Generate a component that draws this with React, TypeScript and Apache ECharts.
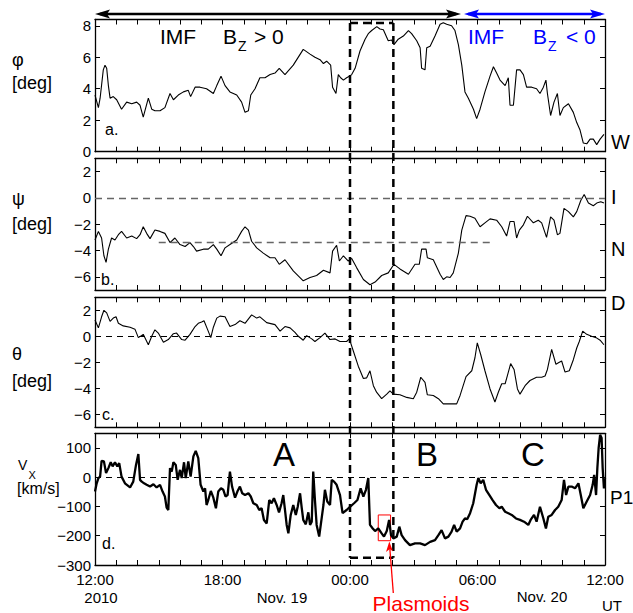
import React, { useEffect, useRef } from 'react';
import * as echarts from 'echarts';

// hours after 12:00 UT, 2010 Nov. 19
const hourTicks = Array.from({ length: 25 }, (_, i) => i);
const timeLabelValues = [0, 6, 12, 18, 24];
const timeLabels = ['12:00', '18:00', '00:00', '06:00', '12:00'];

const phiTicks = [0, 2, 4, 6, 8];
const psiTicks = [-6, -4, -2, 0, 2];
const thetaTicks = [-6, -4, -2, 0, 2];
const vxTicks = [-300, -200, -100, 0, 100];

const phiData = [[0,3.6],[0.16,2.8],[0.24,3.4],[0.39,5.2],[0.47,5.5],[0.55,5.3],[0.63,4.2],[0.71,3.4],[0.86,3.5],[1.02,3.3],[1.25,2.7],[1.49,3.15],[1.73,3.05],[1.96,3.15],[2.12,2.95],[2.27,2.2],[2.51,3.4],[2.67,2.7],[2.82,2.6],[3.06,2.6],[3.29,2.8],[3.53,3.7],[3.69,3.3],[3.92,3.6],[4.16,3.8],[4.39,3.9],[4.5,3.5],[4.71,4.1],[4.94,4.1],[5.25,4.0],[5.57,3.7],[5.73,4.2],[5.93,4.8],[6.12,4.2],[6.35,3.8],[6.67,3.6],[6.9,3.15],[7.06,2.5],[7.22,2.6],[7.33,3.6],[7.53,4.0],[7.76,4.7],[8.0,4.7],[8.24,4.9],[8.47,5.0],[8.67,5.3],[8.94,4.9],[9.33,5.5],[9.8,6.5],[10.12,6.2],[10.35,6.0],[10.59,5.85],[10.75,5.6],[10.9,5.75],[11.09,5.5],[11.18,4.1],[11.34,3.7],[11.45,4.9],[11.56,4.7],[11.69,4.55],[11.84,4.7],[11.97,4.8],[12.08,4.9],[12.24,5.3],[12.47,6.4],[12.71,7.15],[12.86,7.5],[13.02,7.7],[13.26,7.95],[13.41,7.8],[13.57,7.75],[13.8,7.05],[13.96,7.1],[14.07,6.8],[14.27,7.15],[14.51,7.35],[14.75,7.7],[14.9,7.5],[15.14,7.05],[15.3,6.6],[15.37,5.3],[15.53,5.2],[15.61,6.6],[15.77,6.7],[16.0,7.35],[16.24,8.1],[16.39,8.2],[16.55,8.1],[16.78,8.0],[16.94,7.7],[17.1,6.8],[17.26,5.5],[17.41,3.8],[17.57,3.4],[17.81,2.7],[17.96,2.1],[18.12,2.7],[18.35,3.8],[18.59,4.8],[18.75,5.4],[18.9,5.0],[19.06,4.55],[19.3,4.2],[19.45,4.7],[19.53,2.95],[19.69,2.95],[19.84,5.2],[20.0,5.2],[20.16,4.9],[20.31,4.1],[20.55,4.1],[20.78,4.0],[20.94,3.7],[21.1,4.1],[21.22,4.55],[21.29,3.7],[21.44,2.3],[21.6,3.15],[21.76,3.7],[21.88,2.3],[22.04,2.8],[22.28,3.05],[22.51,2.5],[22.67,1.85],[22.82,1.4],[22.98,0.55],[23.14,0.5],[23.3,0.8],[23.45,0.8],[23.61,0.45],[23.77,0.8],[23.95,1.1]];

const psiData = [[0,-3.2],[0.16,-2.55],[0.31,-3.05],[0.42,-4.4],[0.52,-4.9],[0.63,-3.9],[0.78,-3.05],[0.94,-3.2],[1.1,-2.8],[1.25,-2.55],[1.49,-3.05],[1.73,-2.9],[1.96,-3.1],[2.12,-2.8],[2.27,-2.2],[2.43,-2.7],[2.59,-3.1],[2.82,-2.45],[3.06,-2.55],[3.29,-2.7],[3.53,-3.4],[3.76,-3.05],[4.0,-3.55],[4.24,-3.7],[4.47,-3.4],[4.63,-3.7],[4.78,-4.05],[5.1,-3.9],[5.33,-3.9],[5.57,-3.55],[5.73,-3.9],[5.93,-4.4],[6.12,-3.8],[6.35,-3.55],[6.67,-3.2],[6.9,-2.55],[7.06,-2.2],[7.22,-2.45],[7.37,-3.3],[7.61,-3.8],[7.92,-4.2],[8.24,-4.55],[8.47,-4.55],[8.67,-5.05],[8.94,-4.7],[9.33,-5.55],[9.8,-6.3],[10.12,-6.05],[10.43,-5.9],[10.75,-5.5],[11.06,-5.7],[11.18,-4.05],[11.37,-3.6],[11.5,-4.8],[11.69,-4.4],[11.92,-4.8],[12.08,-4.6],[12.31,-5.3],[12.63,-6.2],[12.94,-6.6],[13.18,-6.4],[13.49,-5.9],[13.8,-5.7],[14.07,-5.05],[14.35,-5.4],[14.75,-5.8],[15.06,-5.05],[15.26,-5.05],[15.37,-3.9],[15.58,-3.9],[15.64,-4.55],[15.92,-4.7],[16.24,-5.8],[16.39,-6.2],[16.55,-6.0],[16.71,-6.05],[16.86,-5.7],[17.1,-4.2],[17.26,-2.45],[17.46,-1.35],[17.65,-1.4],[17.88,-1.55],[18.12,-2.2],[18.35,-1.9],[18.59,-1.6],[18.9,-1.7],[19.14,-2.2],[19.37,-2.9],[19.53,-1.8],[19.72,-1.8],[19.84,-3.05],[19.97,-2.45],[20.16,-2.05],[20.35,-1.4],[20.63,-1.9],[20.86,-1.7],[21.02,-1.9],[21.25,-3.0],[21.44,-1.45],[21.6,-1.7],[21.76,-2.8],[21.88,-2.7],[22.07,-0.8],[22.28,-1.05],[22.51,-1.45],[22.67,-1.05],[22.86,-0.2],[23.02,0.25],[23.22,-0.4],[23.45,-0.6],[23.61,-0.4],[23.8,-0.3],[23.95,-0.4]];

const psiRefLevel = -3.375;
const psiRefSpan = [3.0, 18.7];

const thetaData = [[0,1.25],[0.16,0.65],[0.31,1.5],[0.42,2.0],[0.55,1.8],[0.71,1.15],[0.86,1.4],[0.99,1.5],[1.1,1.0],[1.33,0.8],[1.65,0.7],[1.88,0.55],[2.04,-0.1],[2.27,0.15],[2.51,-0.65],[2.67,0],[2.82,0.5],[2.98,0.25],[3.22,-0.45],[3.45,-0.25],[3.69,0.2],[3.84,0.25],[4.08,-0.25],[4.24,-0.3],[4.47,0.15],[4.71,0.75],[4.86,1.0],[5.02,1.1],[5.13,1.2],[5.29,0.55],[5.45,-0.1],[5.57,0.7],[5.73,1.4],[5.88,1.55],[6.12,1.5],[6.35,0.75],[6.59,0.9],[6.82,1.2],[7.06,1.0],[7.37,1.65],[7.61,1.4],[7.76,1.5],[8.08,1.05],[8.47,0.9],[8.71,0.4],[8.94,0.75],[9.18,0.65],[9.41,0.3],[9.57,0],[9.8,-0.3],[9.96,0.05],[10.2,-0.2],[10.35,-0.4],[10.59,-0.1],[10.82,0.25],[11.06,-0.25],[11.3,-0.2],[11.53,-0.4],[11.84,-0.4],[11.97,-0.2],[12.16,-1.15],[12.39,-2.3],[12.63,-3.25],[12.78,-3.2],[12.94,-2.65],[13.1,-3.8],[13.25,-4.3],[13.49,-4.8],[13.73,-4.45],[13.88,-4.2],[14.04,-4.45],[14.35,-4.5],[14.67,-4.7],[14.98,-4.8],[15.14,-4.3],[15.33,-3.15],[15.53,-3.55],[15.64,-4.5],[15.92,-4.55],[16.16,-4.8],[16.39,-5.2],[16.71,-5.2],[17.02,-5.2],[17.18,-4.55],[17.46,-3.1],[17.73,-2.65],[17.88,-1.65],[17.99,-0.5],[18.15,-1.4],[18.35,-2.65],[18.59,-4.05],[18.82,-5.05],[18.98,-4.3],[19.14,-3.65],[19.3,-3.65],[19.41,-3.0],[19.56,-2.1],[19.72,-2.55],[19.88,-4.05],[20.0,-4.45],[20.24,-3.8],[20.47,-3.4],[20.78,-3.15],[21.02,-3.15],[21.18,-3.05],[21.29,-2.55],[21.49,-1.0],[21.69,-2.15],[21.85,-2.0],[21.96,-1.9],[22.12,-2.75],[22.32,-2.65],[22.51,-1.8],[22.67,-0.9],[22.79,-0.4],[22.95,0.4],[23.14,0.15],[23.37,0],[23.58,-0.1],[23.77,-0.3],[23.95,-0.65]];

const vxData = [[0,-49],[0.08,-21],[0.16,-3],[0.24,2],[0.31,56],[0.42,54],[0.52,14],[0.63,31],[0.74,51],[0.83,37],[0.94,51],[1.05,37],[1.14,48],[1.25,2],[1.41,-21],[1.65,-35],[1.8,-15],[1.93,42],[2.04,79],[2.12,-9],[2.2,-15],[2.31,-21],[2.43,-26],[2.59,-32],[2.75,-24],[2.9,-35],[3.06,-26],[3.18,-49],[3.29,-66],[3.37,-104],[3.45,-112],[3.53,31],[3.61,19],[3.69,51],[3.8,42],[3.89,-9],[4.0,25],[4.08,-3],[4.19,51],[4.27,-3],[4.39,54],[4.5,2],[4.63,71],[4.74,90],[4.86,65],[4.97,-26],[5.1,-49],[5.18,-38],[5.25,-95],[5.33,-78],[5.45,-47],[5.57,-70],[5.69,-106],[5.8,-49],[5.93,-38],[6.04,-43],[6.14,-66],[6.24,-61],[6.35,19],[6.45,-32],[6.59,-70],[6.7,-49],[6.82,-32],[6.93,-55],[7.06,-61],[7.22,-55],[7.33,-66],[7.45,-89],[7.61,-95],[7.73,-112],[7.84,-106],[7.95,-146],[8.08,-158],[8.2,-78],[8.31,-89],[8.42,-72],[8.55,-95],[8.66,-120],[8.78,-89],[8.86,-61],[8.94,-112],[9.02,-163],[9.1,-192],[9.21,-129],[9.33,-95],[9.45,-129],[9.54,-101],[9.65,-55],[9.73,-106],[9.8,-146],[9.92,-161],[10.04,-120],[10.12,-163],[10.2,-152],[10.27,19],[10.35,-78],[10.43,-163],[10.55,-203],[10.75,-95],[10.82,-43],[10.93,-83],[11.06,-95],[11.14,-9],[11.25,-15],[11.37,-26],[11.53,-61],[11.65,-123],[11.84,-112],[12.0,-101],[12.19,-89],[12.35,-78],[12.5,-38],[12.63,-66],[12.75,-43],[12.86,-3],[12.94,-163],[13.07,-175],[13.18,-184],[13.33,-175],[13.49,-192],[13.6,-203],[13.73,-184],[13.84,-146],[13.93,-198],[14.04,-209],[14.2,-203],[14.32,-169],[14.43,-198],[14.59,-215],[14.82,-232],[15.06,-226],[15.3,-226],[15.53,-232],[15.77,-221],[16.0,-215],[16.16,-198],[16.31,-181],[16.47,-209],[16.63,-203],[16.78,-186],[16.9,-163],[17.02,-186],[17.18,-175],[17.3,-152],[17.41,-141],[17.52,-143],[17.65,-123],[17.8,-89],[17.96,-26],[18.04,-3],[18.15,-21],[18.27,-9],[18.4,-43],[18.56,-61],[18.71,-78],[18.87,-95],[19.03,-106],[19.14,-101],[19.3,-118],[19.45,-123],[19.61,-129],[19.81,-141],[20.0,-146],[20.19,-152],[20.39,-163],[20.5,-146],[20.66,-129],[20.78,-152],[20.94,-101],[21.1,-141],[21.22,-175],[21.33,-135],[21.49,-129],[21.65,-112],[21.8,-101],[21.96,-78],[22.07,-9],[22.17,-61],[22.28,-32],[22.43,-32],[22.59,-38],[22.75,-21],[22.86,-61],[22.98,-106],[23.14,-83],[23.3,-61],[23.42,-26],[23.49,8],[23.58,-61],[23.64,31],[23.7,99],[23.77,145],[23.84,134],[23.89,31],[23.95,-38],[24,-3]];

const plasmoidBox = [[13.33, -129], [13.91, -217]];
const focusSpan = [12, 14.04];

const FONT = '"Liberation Sans", Arial, Helvetica, sans-serif';

const minus = (v: number) => (v < 0 ? '\u2212' + Math.abs(v) : String(v));

const panels = [
  { top: 19.5, height: 132.2, min: 0, max: 8.4, ticks: phiTicks },
  { top: 158.3, height: 131.7, min: -7, max: 3, ticks: psiTicks },
  { top: 297.3, height: 130, min: -7, max: 3, ticks: thetaTicks },
  { top: 433.3, height: 131.7, min: -300, max: 150, ticks: vxTicks },
];

export default function App() {
  const ref = useRef<HTMLDivElement>(null);
  useEffect(() => {
    if (!ref.current) return;
    const chart = echarts.init(ref.current, undefined, { renderer: 'svg' });
    const axisLine = { show: true, onZero: false, lineStyle: { color: '#000', width: 1.3 } };
    const grid = panels.map((p) => ({ left: 95, width: 510, top: p.top, height: p.height }));
    const xAxis: any[] = [];
    const yAxis: any[] = [];
    panels.forEach((p, i) => {
      ['bottom', 'top'].forEach((pos) => {
        xAxis.push({
          type: 'value', gridIndex: i, position: pos, min: 0, max: 24,
          axisLine,
          axisTick: { show: true, inside: true, length: 5, customValues: hourTicks, lineStyle: { color: '#000', width: 1 } },
          axisLabel: i === 3 && pos === 'bottom'
            ? {
                show: true, customValues: timeLabelValues, margin: 7, fontSize: 15, color: '#000', fontFamily: FONT,
                formatter: (v: number) => timeLabels[timeLabelValues.indexOf(v)] ?? '',
              }
            : { show: false },
          splitLine: { show: false },
        });
      });
      ['left', 'right'].forEach((pos) => {
        yAxis.push({
          type: 'value', gridIndex: i, position: pos, min: p.min, max: p.max,
          axisLine,
          axisTick: { show: true, inside: true, length: 5, customValues: p.ticks, lineStyle: { color: '#000', width: 1 } },
          axisLabel: pos === 'left'
            ? { show: true, customValues: p.ticks, margin: 4, fontSize: 15, color: '#000', fontFamily: FONT, formatter: minus }
            : { show: false },
          splitLine: { show: false },
        });
      });
    });

    const dashBlack = { color: '#000', type: [6, 5], width: 1 };
    const series: any[] = [
      {
        type: 'line', xAxisIndex: 0, yAxisIndex: 0, data: phiData, showSymbol: false,
        lineStyle: { color: '#000', width: 1.1 },
      },
      {
        type: 'line', xAxisIndex: 2, yAxisIndex: 2, data: psiData, showSymbol: false,
        lineStyle: { color: '#000', width: 1.1 },
        markLine: {
          silent: true, symbol: 'none', label: { show: false },
          lineStyle: { color: '#666', type: [7, 5], width: 1.3 },
          data: [
            { yAxis: 0 },
            [{ coord: [psiRefSpan[0], psiRefLevel] }, { coord: [psiRefSpan[1], psiRefLevel] }],
          ],
        },
      },
      {
        type: 'line', xAxisIndex: 4, yAxisIndex: 4, data: thetaData, showSymbol: false,
        lineStyle: { color: '#000', width: 1.1 },
        markLine: { silent: true, symbol: 'none', label: { show: false }, lineStyle: dashBlack, data: [{ yAxis: 0 }] },
      },
      {
        type: 'line', xAxisIndex: 6, yAxisIndex: 6, data: vxData, showSymbol: false,
        lineStyle: { color: '#000', width: 2.3 },
        markLine: { silent: true, symbol: 'none', label: { show: false }, lineStyle: dashBlack, data: [{ yAxis: 0 }] },
        markArea: {
          silent: true,
          itemStyle: { color: 'rgba(0,0,0,0)', borderColor: '#ff0000', borderWidth: 1 },
          data: [[{ coord: plasmoidBox[0] }, { coord: plasmoidBox[1] }]],
        },
      },
    ];

    chart.setOption({ animation: false, backgroundColor: '#fff', grid, xAxis, yAxis, series });

    const bx1 = chart.convertToPixel({ xAxisIndex: 0 }, focusSpan[0]) as number;
    const bx2 = chart.convertToPixel({ xAxisIndex: 0 }, focusSpan[1]) as number;
    const boxTop = 23;
    const boxBottom = 557.7;

    const txt = (text: string, x: number, y: number, size: number, fill = '#000', align = 'left') => ({
      type: 'text', x, y, z: 100,
      style: { text, fontSize: size, fontFamily: FONT, fill, align, verticalAlign: 'middle' },
    });
    const ln = (x1: number, y1: number, x2: number, y2: number, stroke: string, w: number, dash?: number[]) => ({
      type: 'line', z: 100, shape: { x1, y1, x2, y2 },
      style: { stroke, lineWidth: w, lineDash: dash },
    });
    const tri = (pts: number[][], fill: string) => ({ type: 'polygon', z: 100, shape: { points: pts }, style: { fill } });

    const graphic: any[] = [
      // IMF interval arrows
      ln(100, 14, 456, 14, '#000', 2.5),
      tri([[95, 14], [110, 9.5], [107, 14], [110, 18.5]], '#000'),
      tri([[461, 14], [446, 9.5], [449, 14], [446, 18.5]], '#000'),
      ln(468, 14, 601, 14, '#0000ff', 2.5),
      tri([[464, 14], [479, 9.5], [476, 14], [479, 18.5]], '#0000ff'),
      tri([[605, 14], [590, 9.5], [593, 14], [590, 18.5]], '#0000ff'),
      txt('IMF', 160, 36, 21),
      txt('B', 223, 36, 21),
      txt('Z', 238, 46, 14),
      txt('> 0', 254, 36, 21),
      txt('IMF', 468, 36, 21, '#0000ff'),
      txt('B', 533, 36, 21, '#0000ff'),
      txt('Z', 548, 46, 14, '#0000ff'),
      txt('< 0', 566, 36, 21, '#0000ff'),
      // y titles
      txt('\u03c6', 12, 60, 18),
      txt('[deg]', 12, 83, 18),
      txt('\u03c8', 12, 199, 18),
      txt('[deg]', 12, 224, 18),
      txt('\u03b8', 12, 354, 18),
      txt('[deg]', 12, 381, 18),
      txt('V', 18, 465, 14),
      txt('X', 28.5, 475, 11),
      txt('[km/s]', 17, 488, 16),
      // right labels
      txt('W', 611, 142, 20),
      txt('I', 611, 197, 20),
      txt('N', 611, 249, 20),
      txt('D', 611, 303, 20),
      txt('P1', 610, 497, 19),
      // panel letters
      txt('a.', 105, 129, 16),
      txt('b.', 101, 279, 16),
      txt('c.', 102, 414, 16),
      txt('d.', 102, 543, 16),
      // regions
      txt('A', 284, 454, 33, '#000', 'center'),
      txt('B', 427, 454, 33, '#000', 'center'),
      txt('C', 533, 454, 33, '#000', 'center'),
      // date labels
      txt('2010', 101, 597, 15, '#000', 'center'),
      txt('Nov. 19', 282, 597, 15, '#000', 'center'),
      txt('Nov. 20', 542, 596, 15, '#000', 'center'),
      txt('UT', 612, 605, 15, '#000', 'center'),
      // dashed box
      ln(bx1, boxTop, bx1, boxBottom, '#000', 2.5, [8, 5]),
      ln(bx2, boxTop, bx2, boxBottom, '#000', 2.5, [8, 5]),
      ln(bx1, boxTop, bx2, boxTop, '#000', 2.5, [8, 5]),
      ln(bx1, boxBottom, bx2, boxBottom, '#000', 2.5, [8, 5]),
      // plasmoids
      ln(393.3, 593, 389.8, 548, '#ff0000', 1.3),
      tri([[389.3, 541.5], [386, 552], [389.8, 549], [393, 551.5]], '#ff0000'),
      txt('Plasmoids', 421, 603, 21, '#ff0000', 'center'),
    ];
    chart.setOption({ graphic });

    return () => chart.dispose();
  }, []);
  return <div ref={ref} style={{ position: 'absolute', left: 0, top: 0, width: 633, height: 613 }} />;
}
